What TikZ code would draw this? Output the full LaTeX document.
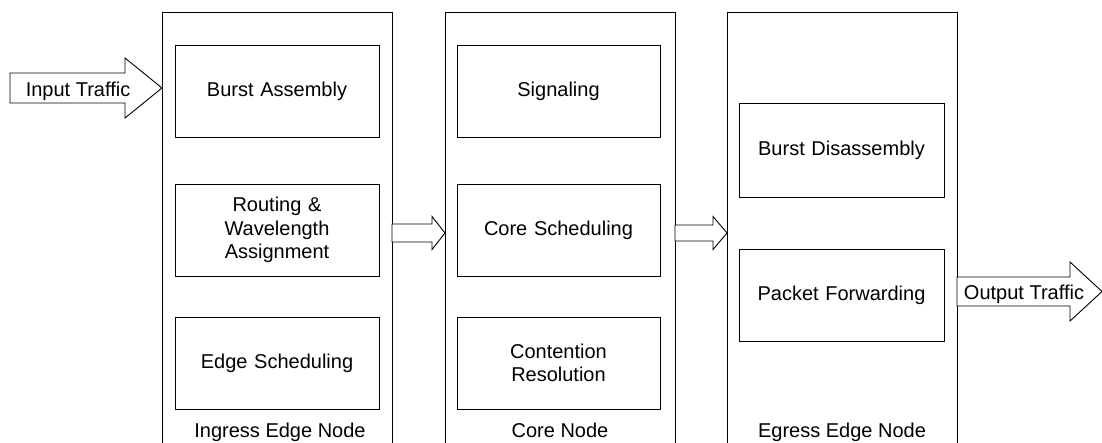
\documentclass[tikz,border=0pt]{standalone}
\usepackage{fontspec}
\setmainfont{Liberation Sans}
\usetikzlibrary{calc}
\newcommand\blockarrow[7]{% name, x0, x1 (head start), x2 (tip), yc, body half, head half
  \draw[arrowline] (#2,#5-#6) -- (#3,#5-#6) -- (#3,#5-#7) -- (#4,#5) -- (#3,#5+#7) -- (#3,#5+#6) -- (#2,#5+#6) -- cycle;
  \coordinate (#1) at ({(#2+#3)/2},#5);
}
\begin{document}
\begin{tikzpicture}[x=1pt,y=-1pt,
  every node/.style={font=\fontsize{20}{23.5}\selectfont, inner sep=0pt, outer sep=0pt},
  panel/.style={draw, line width=0.9pt, minimum width=230pt, minimum height=460pt, anchor=north west},
  task/.style={draw, line width=0.9pt, minimum width=204pt, minimum height=92pt, align=center, text width=200pt},
  lbl/.style={anchor=base},
  arrowline/.style={draw, line width=0.9pt, line join=miter, fill=white}]
\useasboundingbox (0,0) rectangle (1102,442);
\clip (0,0) rectangle (1102,442);
% panels
\node[panel] (p1) at (162,12) {};
\node[panel] (p2) at (445,12) {};
\node[panel] (p3) at (727,12) {};
% panel 1 tasks
\node[task] (ba) at (277,91) {Burst Assembly};
\node[task] (rw) at (277,230) {Routing \&\\Wavelength\\Assignment};
\node[task] (es) at (277,363) {Edge Scheduling};
% panel 2 tasks
\node[task, minimum width=203pt] (sg) at (558.5,91) {Signaling};
\node[task, minimum width=203pt] (cs) at (558.5,230) {Core Scheduling};
\node[task, minimum width=203pt] (cr) at (558.5,363) {Contention\\Resolution};
% panel 3 tasks
\node[task, minimum width=205pt, minimum height=94pt] (bd) at (841.5,150) {Burst Disassembly};
\node[task, minimum width=205pt] (pf) at (841.5,295) {Packet Forwarding};
% bottom labels
\node[lbl] (l1) at (280,437) {Ingress Edge Node};
\node[lbl] (l2) at (560,437) {Core Node};
\node[lbl] (l3) at (842,437) {Egress Edge Node};
% block arrows
\blockarrow{ain}{10}{125}{162}{88}{15}{30}
\node[lbl] (tin) at (78,96) {Input Traffic};
\blockarrow{a12}{392}{432}{445}{233}{9}{16.5}
\blockarrow{a23}{675}{713}{727}{233}{8}{16.5}
\blockarrow{aout}{957}{1070}{1102}{291.5}{14.5}{29.5}
\node[lbl] (tout) at (1024,299) {Output Traffic};
\end{tikzpicture}
\end{document}
